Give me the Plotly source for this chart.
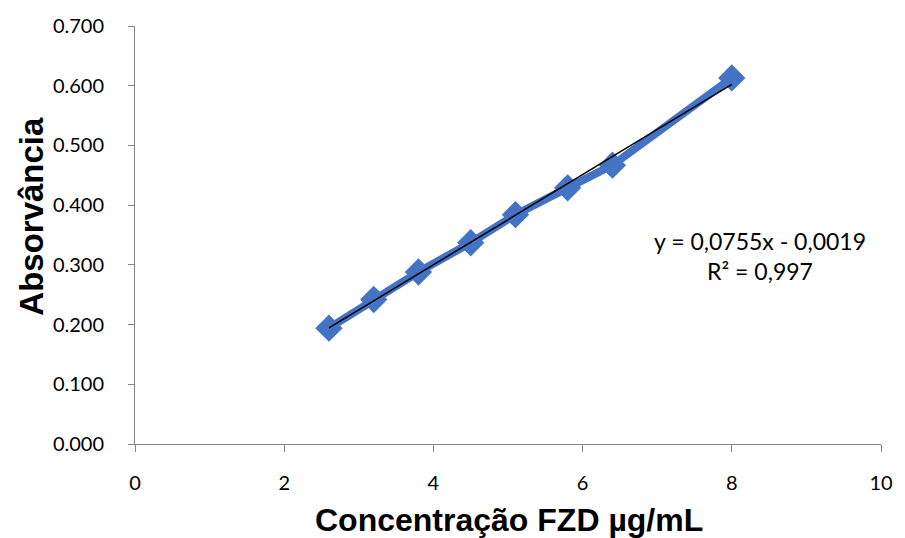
import plotly.graph_objects as go

conc = [2.6, 3.2, 3.8, 4.5, 5.1, 5.8, 6.4, 8.0]
absorb = [0.194, 0.242, 0.288, 0.337, 0.384, 0.429, 0.467, 0.613]
slope = 0.0755
intercept = -0.0019
eq_text = "y = 0,0755x - 0,0019<br>R² = 0,997"
x_ticks = [0, 2, 4, 6, 8, 10]
y_ticks = [0.0, 0.1, 0.2, 0.3, 0.4, 0.5, 0.6, 0.7]

fit_x = [min(conc), max(conc)]
fit_y = [slope * v + intercept for v in fit_x]

L, R, T, B = 135, 19, 26, 94
W, H = 905, 538
pw = W - L - R
ph = H - T - B


def px(xp):
    return (xp - L) / pw


def py(yp):
    return (H - B - yp) / ph


fig = go.Figure()
fig.add_trace(go.Scatter(
    x=conc, y=absorb, mode="lines+markers",
    line=dict(color="#4472C4", width=8),
    marker=dict(symbol="diamond", size=21, color="#4472C4"),
    showlegend=False, hoverinfo="skip"))
fig.add_trace(go.Scatter(
    x=fit_x, y=fit_y, mode="lines",
    line=dict(color="black", width=1.5),
    showlegend=False, hoverinfo="skip"))

fig.update_layout(
    width=W, height=H,
    margin=dict(l=L, r=R, t=T, b=B),
    plot_bgcolor="white", paper_bgcolor="white",
    font=dict(family="Lato, Liberation Sans", size=19, color="black"),
    xaxis=dict(range=[0, 10], tickvals=x_ticks, ticktext=[str(v) for v in x_ticks],
               showgrid=False, zeroline=False, showline=True, linecolor="#868686",
               linewidth=1, ticks="outside", ticklen=7, tickcolor="#868686",
               ticklabelstandoff=14,
               tickfont=dict(family="Lato, Liberation Sans", size=20)),
    yaxis=dict(range=[0, 0.7], tickvals=y_ticks, ticktext=[f"{v:.3f}" for v in y_ticks],
               showgrid=False, zeroline=False, showline=True, linecolor="#868686",
               linewidth=1, ticks="outside", ticklen=6, tickcolor="#868686",
               ticklabelstandoff=20,
               tickfont=dict(family="Lato, Liberation Sans", size=20)),
    annotations=[
        dict(text=eq_text, x=px(764), y=py(256), xref="paper", yref="paper",
             xanchor="center", yanchor="middle", showarrow=False,
             font=dict(family="Lato, Liberation Sans", size=23), align="center"),
        dict(text="<b>Absorvância</b>", xref="paper", yref="paper", x=px(30), y=py(216),
             xanchor="center", yanchor="middle", textangle=-90, showarrow=False,
             font=dict(family="Liberation Sans, Arial", size=33)),
        dict(text="<b>Concentração FZD µg/mL</b>", xref="paper", yref="paper",
             x=px(512), y=py(520), xanchor="center", yanchor="middle",
             showarrow=False, font=dict(family="Liberation Sans, Arial", size=32)),
    ],
)

fig.write_html("out.html")
